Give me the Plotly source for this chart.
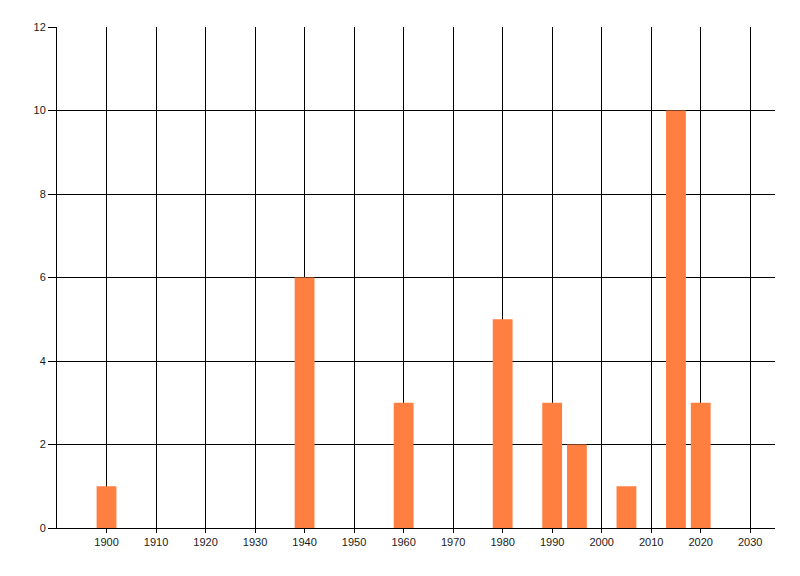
import plotly.graph_objects as go

years = [1900, 1940, 1960, 1980, 1990, 1995, 2005, 2015, 2020]
counts = [1, 6, 3, 5, 3, 2, 1, 10, 3]
x_ticks = list(range(1900, 2031, 10))
y_ticks = [0, 2, 4, 6, 8, 10, 12]

fig = go.Figure()
fig.add_trace(go.Bar(
    x=years, y=counts, width=4,
    marker=dict(color="#FF7F40", line=dict(width=0)),
))

font = dict(family="Liberation Sans, Arial, sans-serif", size=11, color="#1a1a1a")
fig.update_layout(
    width=792, height=568,
    margin=dict(l=49, r=25, t=19, b=48),
    paper_bgcolor="white", plot_bgcolor="white",
    showlegend=False,
    font=font,
    xaxis=dict(
        range=[1890, 2035], tickvals=x_ticks, ticktext=[str(v) for v in x_ticks],
        showgrid=True, gridcolor="black", gridwidth=1,
        showline=True, linecolor="black", linewidth=1,
        ticks="outside", ticklen=4, tickcolor="black",
        zeroline=False, layer="below traces", tickfont=font,
    ),
    yaxis=dict(
        range=[0, 12], tickvals=y_ticks,
        showgrid=True, gridcolor="black", gridwidth=1,
        showline=True, linecolor="black", linewidth=1,
        ticks="outside", ticklen=8, tickcolor="black",
        zeroline=False, layer="below traces", tickfont=font,
    ),
)
fig.write_html("out.html")
